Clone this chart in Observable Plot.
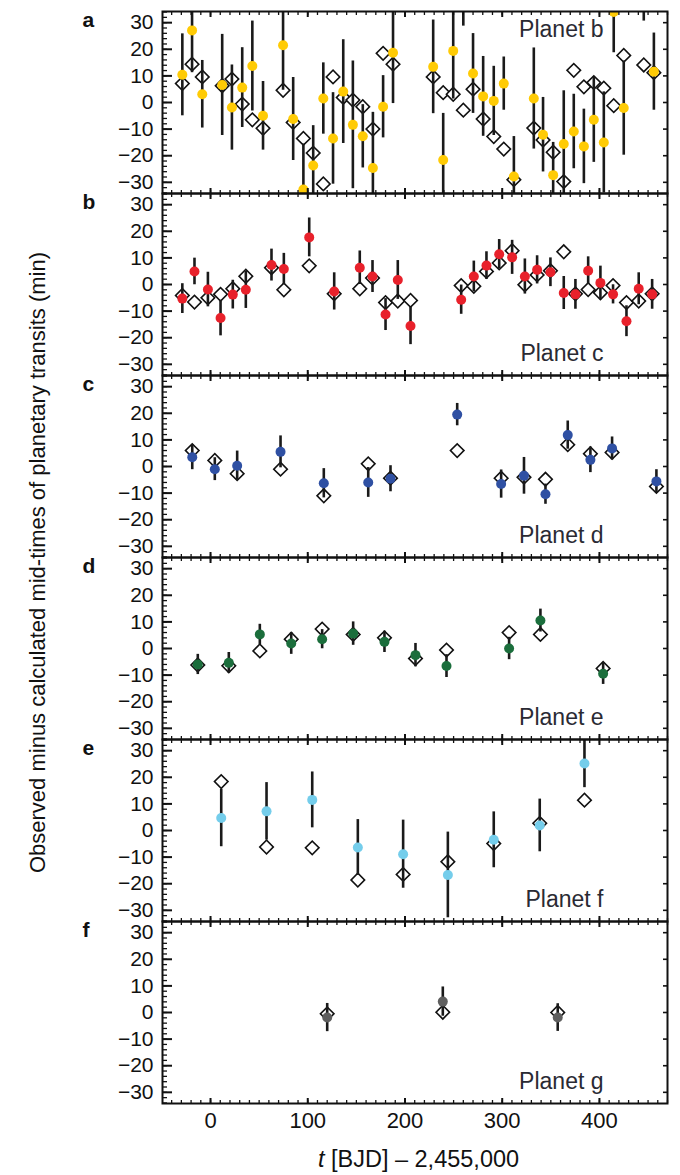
<!DOCTYPE html>
<html>
<head>
<meta charset="utf-8">
<script src="https://cdn.jsdelivr.net/npm/d3@7"></script>
<script src="https://cdn.jsdelivr.net/npm/@observablehq/plot@0.6"></script>
<style>
  body { margin: 0; background: #fff; }
  #chart { position: relative; width: 680px; height: 1175px; font-family: "Liberation Sans", Arial, Helvetica, sans-serif; color: #111; }
  #xlabel { position: absolute; left: 166px; width: 505px; top: 1148px; text-align: center; font-size: 23.5px; line-height: 23.5px; }
</style>
</head>
<body>
<div id="chart"><div id="xlabel"><i>t</i> [BJD] – 2,455,000</div></div>
<script>
// Transit timing variations (observed minus calculated), one panel per planet.
const panels = ["a", "b", "c", "d", "e", "f"];
const planetNames = ["Planet b", "Planet c", "Planet d", "Planet e", "Planet f", "Planet g"];
const planetColors = ["#FFCB05", "#E8212B", "#2F50A3", "#1B6E3C", "#74CDEB", "#5F5F5F"];

// Planet b
const tB = [-29, -19, -8.5, 12, 22, 32.6, 43, 54, 74.6, 85, 95.5, 105.6, 116, 126, 136.5, 146.4, 156.6, 167, 177.5, 187.7, 229, 239.3, 249.6, 260, 270, 280.4, 291.3, 301.6, 312, 332.5, 342, 352.4, 363.3, 373.6, 384, 394.2, 404.5, 414.7, 425, 445.6, 456];
const obsB = [10.4, 27.1, 3.1, 6.6, -1.9, 5.6, 13.7, -5.0, 21.5, -6.2, -32.7, -23.7, 1.5, -13.5, 4.1, -8.4, -12.7, -24.6, -1.6, 18.7, 13.4, -21.6, 19.4, 42, 10.9, 2.3, 0.6, 7.1, -27.8, 1.5, -12.1, -27.3, -15.6, -10.9, -16.5, -6.5, -15, 34, -2.1, 44, 11.6];
const errB = [15.4, 15.9, 12.7, 19, 16, 15, 16.9, 12.9, 16.9, 15.6, 17.1, 15, 13.4, 17.2, 19.5, 24, 11.9, 20.9, 11.7, 19.1, 17.6, 17.5, 18.1, 13.3, 15, 15, 13, 10, 15, 19, 14, 12.3, 20, 14, 14, 16, 19, 15.3, 17.7, 13.4, 14.5];
const modelB = [7.1, 14.4, 9.6, 6.3, 8.8, -0.6, -6.5, -9.7, 4.6, -7.5, -13.5, -19.0, -30.6, 9.6, 1.9, 0.9, -1.6, -10.0, 18.5, 14.4, 9.6, 3.7, 3.1, -2.9, 5.0, -6.2, -12.8, -17.5, -29, -9.6, -14.1, -18.7, -29.7, 12.1, 5.9, 7.5, 5.4, -1.2, 17.7, 14.1, 11.2];

// Planet c
const tC = [-29, -16.5, -2.7, 10.3, 22.9, 36.3, 62.7, 75.4, 101.5, 127.2, 153.5, 166.6, 180, 192.6, 205.7, 257.8, 270.8, 283.8, 296.9, 310.2, 323.3, 335.9, 349.6, 363.3, 375.3, 388.4, 401, 414, 427.8, 440.4, 454.2];
const obsC = [-5.3, 4.9, -1.9, -12.6, -3.8, -2.0, 7.3, 5.8, 17.7, -2.6, 6.3, 3.0, -11.3, 1.7, -15.6, -5.7, 3.0, 7.1, 11.4, 10.2, 3.0, 5.5, 4.6, -3.2, -3.7, 5.2, 0.6, -3.7, -13.8, -1.6, -3.7];
const errC = [5.6, 5, 6.5, 6.7, 5.4, 7, 6, 5.9, 7.3, 7, 6.3, 6, 6, 7.3, 7, 5.5, 5.8, 5.2, 5.5, 6.4, 6.6, 5.3, 5.4, 6.2, 5.6, 5.2, 6.3, 3.6, 5.8, 6, 5.6];
const modelC = [-4.1, -6.6, -5.0, -3.7, -1.6, 3.1, 6.3, -2.0, 7.0, -3.5, -1.6, 2.4, -6.8, -6.2, -6.0, -0.4, -0.7, 4.9, 8.1, 12.7, -0.1, 3.6, 5.2, 12.3, -3.5, -1.9, -3.1, -0.4, -6.8, -6.2, -3.5];

// Planet d
const tD = [-18.8, 4.4, 27.4, 72, 116.5, 162.2, 185.1, 253.7, 298.9, 322.4, 344.5, 367.4, 390.7, 413, 458.6];
const obsD = [3.5, -1.0, 0.3, 5.5, -6.3, -6.0, -4.6, 19.5, -6.6, -3.5, -10.4, 11.8, 2.5, 6.8, -5.6];
const errD = [4.7, 4.3, 5.5, 6, 5.5, 5.6, 4.9, 4.2, 5.3, 6.9, 3.8, 5.3, 4.8, 4.3, 4.4];
const modelD = [6.0, 2.3, -2.7, -1.0, -11.0, 1.0, -4.4, 6.0, -4.4, -4.0, -4.8, 8.2, 4.8, 5.3, -7.5];

// Planet e
const tE = [-13.1, 18.8, 50.7, 83, 114.8, 146.7, 178.9, 210.8, 242.7, 307.1, 339.3, 403.8];
const obsE = [-6.0, -5.4, 5.3, 1.9, 3.5, 5.6, 2.5, -2.5, -6.6, 0, 10.5, -9.5];
const errE = [3.8, 3.9, 3.8, 4.1, 3.6, 4.4, 4, 4.4, 4.3, 4.2, 4.3, 4];
const modelE = [-6.2, -6.5, -0.9, 3.5, 7.3, 5.3, 4.0, -3.8, -0.6, 6.0, 5.3, -7.5];

// Planet f
const tF = [11, 57.6, 104.6, 151.5, 198.1, 244.1, 291.3, 338.6, 384.6];
const obsF = [4.7, 7.2, 11.5, -6.4, -8.9, -16.7, -3.5, 1.9, 25.2];
const errF = [10.8, 10.8, 10.5, 10.5, 12.8, 16.1, 10.5, 9.9, 9.1];
const modelF = [18.4, -6.2, -6.5, -18.6, -16.5, -11.7, -4.9, 2.7, 11.4];

// Planet g
const tG = [120, 238.9, 357.1];
const obsG = [-1.9, 4.1, -1.9];
const errG = [5.3, 5.5, 5.2];
const modelG = [-0.5, 0.1, 0];

// Axis ticks
const xTickLabels = [0, 100, 200, 300, 400];
const xMinorTicks = d3.range(-40, 471, 10);
const yTickLabels = [-30, -20, -10, 0, 10, 20, 30];
const yMinorTicks = d3.range(-34, 35, 2);
const yTitle = "Observed minus calculated mid-times of planetary transits (min)";

const series = [
  [tB, obsB, errB, modelB],
  [tC, obsC, errC, modelC],
  [tD, obsD, errD, modelD],
  [tE, obsE, errE, modelE],
  [tF, obsF, errF, modelF],
  [tG, obsG, errG, modelG]
];

const rows = series.flatMap(([t, obs, err, model], k) =>
  t.map((ti, i) => ({panel: panels[k], t: ti, obs: obs[i], err: err[i], model: model[i], color: planetColors[k]}))
);
const labels = panels.map((p, k) => ({panel: p, name: planetNames[k]}));

const chart = Plot.plot({
  width: 680,
  height: 1140,
  marginTop: 9,
  marginBottom: 36,
  marginLeft: 162,
  marginRight: 13,
  style: {fontFamily: "'Liberation Sans', Arial, Helvetica, sans-serif", fontSize: "20px", color: "#111", background: "white", overflow: "visible"},
  x: {domain: [-49.4, 470]},
  y: {domain: [-34.2, 34.2]},
  fy: {domain: panels, padding: 0, axis: null, label: null},
  color: {type: "identity"},
  marks: [
    // model timings (open diamonds)
    Plot.dot(rows, {x: "t", y: "model", fy: "panel", symbol: "square", rotate: 45, r: 5.4, stroke: "#111", strokeWidth: 1.6, fill: "white", clip: true}),
    // measurement uncertainties
    Plot.ruleX(rows, {x: "t", y1: (d) => d.obs - d.err, y2: (d) => d.obs + d.err, fy: "panel", stroke: "#1a1a1a", strokeWidth: 2.6, clip: true}),
    // measured timings
    Plot.dot(rows, {x: "t", y: "obs", fy: "panel", fill: "color", r: 5, clip: true}),

    Plot.frame({stroke: "#111", strokeWidth: 2}),

    // y axis: labels, inward major and minor ticks on the left, major ticks on the right
    Plot.axisY({anchor: "left", ticks: yTickLabels, tickSize: 0, tickPadding: 9, fontSize: 21, label: null}),
    Plot.axisY({anchor: "left", ticks: yTickLabels, tickSize: 10, dx: 10, strokeWidth: 2, fill: "none", label: null}),
    Plot.axisY({anchor: "left", ticks: yMinorTicks, tickSize: 5, dx: 5, strokeWidth: 1.3, fill: "none", label: null}),
    Plot.axisY({anchor: "right", ticks: yTickLabels, tickSize: 5, dx: -5, strokeWidth: 1.6, fill: "none", label: null}),

    // x axis: inward ticks on every panel, labels at the bottom
    Plot.axisX({anchor: "bottom", facetAnchor: null, ticks: xTickLabels, tickSize: 5, dy: -5, strokeWidth: 2, fill: "none", label: null}),
    Plot.axisX({anchor: "top", facetAnchor: null, ticks: xTickLabels, tickSize: 5, dy: 5, strokeWidth: 2, fill: "none", label: null}),
    Plot.axisX({anchor: "bottom", facetAnchor: null, ticks: xMinorTicks, tickSize: 3, dy: -3, strokeWidth: 1.3, fill: "none", label: null}),
    Plot.axisX({anchor: "top", facetAnchor: null, ticks: xMinorTicks, tickSize: 3, dy: 3, strokeWidth: 1.3, fill: "none", label: null}),
    Plot.axisX({anchor: "bottom", ticks: xTickLabels, tickSize: 0, tickPadding: 9, fontSize: 22, label: null}),

    // panel letters
    Plot.text(labels, {fy: "panel", text: "panel", frameAnchor: "top-left", dx: -80, dy: 15, lineAnchor: "bottom", textAnchor: "start", fontWeight: "bold", fontSize: 21, fill: "#111"}),
    // planet names
    Plot.text(labels.slice(0, 1), {fy: "panel", text: "name", frameAnchor: "top-right", dx: -64, dy: 25, lineAnchor: "bottom", textAnchor: "end", fontSize: 23, fill: "#2a2a33"}),
    Plot.text(labels.slice(1), {fy: "panel", text: "name", frameAnchor: "bottom-right", dx: -64, dy: -15, lineAnchor: "bottom", textAnchor: "end", fontSize: 23, fill: "#2a2a33"}),
    // shared y title, centred on the stack of panels
    Plot.text([{panel: "c", label: yTitle}], {fy: "panel", text: "label", frameAnchor: "bottom-left", rotate: -90, dx: -125, dy: 5, textAnchor: "middle", lineAnchor: "middle", fontSize: 22, fill: "#111"})
  ]
});

document.getElementById("chart").prepend(chart);
</script>
</body>
</html>
